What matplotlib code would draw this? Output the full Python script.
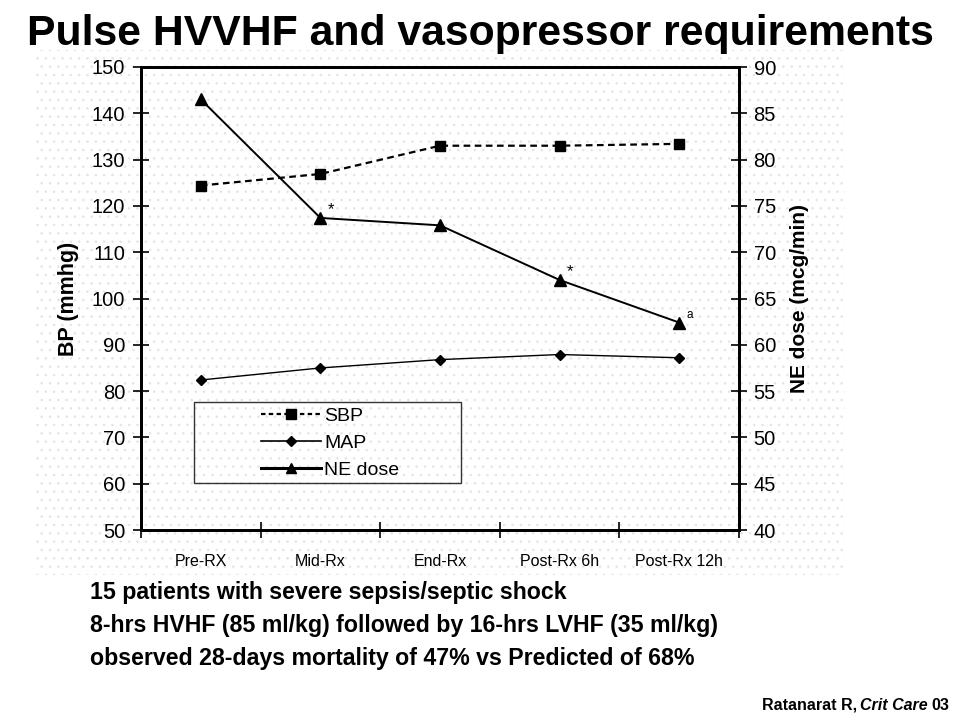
import numpy as np
import matplotlib
matplotlib.use('Agg')
import matplotlib.pyplot as plt
from matplotlib.patches import Rectangle
from matplotlib.lines import Line2D

plt.rcParams['font.family'] = ['Liberation Sans', 'DejaVu Sans']
plt.rcParams['hatch.linewidth'] = 0.6

# Data
phases = ['Pre-RX', 'Mid-Rx', 'End-Rx', 'Post-Rx 6h', 'Post-Rx 12h']
sbp = [124.4, 126.9, 133.0, 133.0, 133.4]
map_bp = [82.4, 85.0, 86.8, 87.9, 87.2]
ne_dose = [86.5, 73.7, 72.9, 67.0, 62.4]
ne_marks = ['', '*', '', '*', 'a']

notes = [
    '15 patients with severe sepsis/septic shock',
    '8-hrs HVHF (85 ml/kg) followed by 16-hrs LVHF (35 ml/kg)',
    'observed 28-days mortality of 47% vs Predicted of 68%',
]

fig = plt.figure(figsize=(9.6, 7.2), dpi=100)

# dotted grey backdrop behind the chart image
bg = Rectangle((35 / 960, 1 - 575 / 720), 810 / 960, 525 / 720, transform=fig.transFigure,
               facecolor='white', edgecolor='#e4e4e4', hatch='..', linewidth=0, zorder=-5)
fig.patches.append(bg)

ax = fig.add_axes([141 / 960, 1 - 530 / 720, 598 / 960, 463 / 720])
ax.patch.set_alpha(0)
x = np.arange(len(phases))

l_sbp, = ax.plot(x, sbp, linestyle=(0, (3, 2)), color='black', linewidth=1.6,
                 marker='s', markersize=7.5)
l_map, = ax.plot(x, map_bp, linestyle='-', color='black', linewidth=1.0,
                 marker='D', markersize=5)
ax.set_ylim(50, 150)
ax.set_yticks(np.arange(50, 151, 10))
ax.set_xlim(-0.5, len(phases) - 0.5)
ax.set_xticks(np.arange(-0.5, len(phases), 1.0))
ax.set_xticklabels([])
ax.set_xticks(x, minor=True)
ax.set_xticklabels(phases, minor=True, fontsize=11.5)
ax.tick_params(axis='x', which='minor', length=0, pad=17)
ax.tick_params(axis='x', which='major', direction='inout', length=12, width=1.2)
ax.tick_params(axis='y', direction='inout', length=11, width=1.2, labelsize=14.5, pad=6)
ax.set_ylabel('BP (mmhg)', fontsize=15.5, fontweight='bold', labelpad=9)

ax2 = ax.twinx()
l_ne, = ax2.plot(x, ne_dose, linestyle='-', color='black', linewidth=1.4,
                 marker='^', markersize=8.5)
ax2.set_ylim(40, 90)
ax2.set_yticks(np.arange(40, 91, 5))
ax2.tick_params(axis='y', direction='inout', length=11, width=1.2, labelsize=14.5, pad=5)
ax2.set_ylabel('NE dose (mcg/min)', fontsize=15, fontweight='bold', labelpad=10)
for i, m in enumerate(ne_marks):
    if m:
        ax2.annotate(m, (x[i], ne_dose[i]), xytext=(5, 3), textcoords='offset points',
                     fontsize=12 if m == '*' else 8.5)

for a in (ax, ax2):
    for s in a.spines.values():
        s.set_linewidth(2)

# legend box
box = Rectangle((53 / 598, (530 - 483) / 463), 267 / 598, 81 / 463, transform=ax.transAxes,
                facecolor='none', edgecolor='#333333', linewidth=1.0, zorder=3)
ax.add_patch(box)
h_ne = Line2D([], [], color='black', linewidth=2.2, marker='^', markersize=7.5)
h_sbp = Line2D([], [], color='black', linestyle=(0, (2, 1.5)), linewidth=1.6, marker='s', markersize=7.5)
h_map = Line2D([], [], color='black', linewidth=1.2, marker='D', markersize=5)
leg = ax.legend([h_sbp, h_map, h_ne], ['SBP', 'MAP', 'NE dose'], loc='upper left',
                bbox_to_anchor=(118 / 598, (530 - 405) / 463), frameon=False, fontsize=14,
                handlelength=3.1, handletextpad=0.15, labelspacing=0.5, borderpad=0.1,
                borderaxespad=0)

fig.text(0.5, 1 - 45 / 720, 'Pulse HVVHF and vasopressor requirements', ha='center',
         va='baseline', fontsize=30.8, fontweight='bold')
for i, line in enumerate(notes):
    fig.text(90 / 960, 1 - (599 + 33 * i) / 720, line, ha='left', va='baseline',
             fontsize=16.7, fontweight='bold')

fs = 11.5
t1 = fig.text(949 / 960, 1 - 710 / 720, '03', ha='right', va='baseline', fontsize=fs,
              fontweight='bold')
fig.canvas.draw()
r = fig.canvas.get_renderer()
bb = t1.get_window_extent(r)
base_y = (1 - 710 / 720) * fig.bbox.height
t2 = fig.text(bb.x0 - 3, base_y, 'Crit Care', ha='right', va='baseline', fontsize=fs,
              fontweight='bold', style='italic', transform=None)
bb2 = t2.get_window_extent(r)
fig.text(bb2.x0 - 3, base_y, 'Ratanarat R,', ha='right', va='baseline', fontsize=fs,
         fontweight='bold', transform=None)

fig.savefig('out.png', dpi=100)
